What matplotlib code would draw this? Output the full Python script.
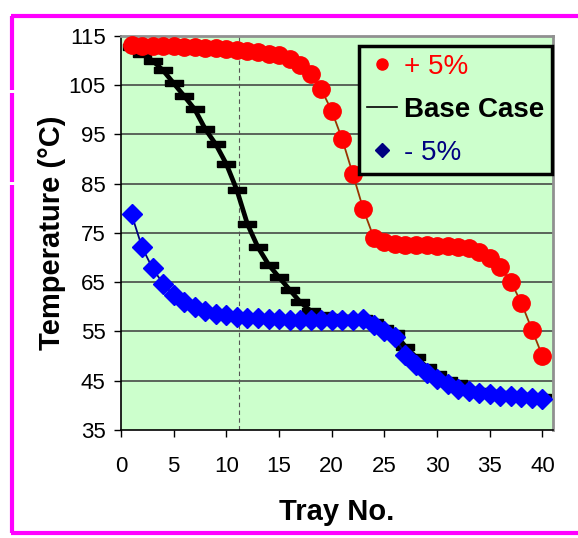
import matplotlib
matplotlib.use("Agg")
import matplotlib.pyplot as plt
from matplotlib.lines import Line2D

plt.rcParams['font.family'] = ['Liberation Sans', 'DejaVu Sans']

trays = list(range(1, 41))
plus5 = [113.1, 113.0, 113.0, 112.9, 112.9, 112.8, 112.7, 112.6, 112.5, 112.4,
         112.2, 112.0, 111.7, 111.4, 111.1, 110.4, 109.1, 107.3, 104.2, 99.8,
         94.0, 87.0, 79.8, 74.0, 73.1, 72.8, 72.6, 72.5, 72.5, 72.4,
         72.3, 72.2, 71.9, 71.2, 70.0, 68.1, 65.1, 60.8, 55.4, 50.0]
base = [112.7, 111.3, 110.0, 108.0, 105.4, 102.8, 100.1, 96.1, 93.0, 89.0,
        83.7, 76.8, 72.1, 68.6, 66.0, 63.5, 61.0, 59.2, 58.3, 57.9,
        57.8, 57.8, 57.8, 56.9, 55.8, 54.6, 51.9, 49.8, 47.8, 46.3,
        45.2, 44.5, 43.2, 42.9, 42.6, 42.4, 42.2, 42.0, 41.8, 41.6]
minus5 = [78.8, 72.1, 67.8, 64.7, 62.4, 61.0, 59.9, 59.2, 58.6, 58.3,
          58.0, 57.8, 57.7, 57.6, 57.5, 57.4, 57.4, 57.3, 57.3, 57.3,
          57.3, 57.4, 57.6, 56.3, 55.2, 53.8, 50.3, 48.1, 46.5, 45.3,
          44.3, 43.4, 42.9, 42.6, 42.3, 42.0, 41.9, 41.7, 41.4, 41.2]
labels = ['+ 5%', 'Base Case', '- 5%']
xticks = list(range(0, 45, 5))
yticks = list(range(35, 125, 10))
ref_tray = 11.2

W, H = 578, 538
fig = plt.figure(figsize=(W / 100, H / 100), dpi=100)
fig.patch.set_facecolor('white')

ax = fig.add_axes([121 / W, 1 - 430 / H, (553 - 121) / W, (430 - 36) / H])
ax.set_facecolor('#CCFFCC')
ax.set_xlim(0, 41)
ax.set_ylim(35, 115)

for yv in yticks[1:-1]:
    ax.axhline(yv, color='#3a3a3a', lw=1.1, zorder=1)
ax.axvline(ref_tray, color='#555555', lw=0.8, ls=(0, (4, 3)), zorder=1)

bar = [(-1, -0.34), (1, -0.34), (1, 0.34), (-1, 0.34), (-1, -0.34)]
ax.plot(trays, base, color='black', lw=3.4, marker=bar, markersize=12.5,
        markerfacecolor='black', markeredgecolor='black', zorder=2)
ax.plot(trays, plus5, color='#993300', lw=1.3, marker='o', markersize=12.5,
        markerfacecolor='red', markeredgecolor='red', zorder=3)
ax.plot(trays, minus5, color='#000080', lw=1.3, marker='D', markersize=10,
        markerfacecolor='#0000FF', markeredgecolor='#0000FF', zorder=3)

ax.set_xticks(xticks)
ax.set_yticks(yticks)
ax.tick_params(direction='out', length=5, width=1, labelsize=16, pad=6)
ax.tick_params(axis='x', pad=14)
for side in ['left', 'bottom']:
    ax.spines[side].set_color('black')
    ax.spines[side].set_linewidth(1.2)
for side in ['top', 'right']:
    ax.spines[side].set_color('#909090')
    ax.spines[side].set_linewidth(2)

ax.set_xlabel('Tray No.', fontsize=21, fontweight='bold', labelpad=15)
ax.set_ylabel('Temperature (\u00b0C)', fontsize=21, fontweight='bold', labelpad=2)

handles = [
    Line2D([], [], ls='none', marker='o', markersize=8, color='red'),
    Line2D([], [], color='black', lw=1.2),
    Line2D([], [], ls='none', marker='D', markersize=7, color='#000080'),
]
leg = ax.legend(handles, labels, loc='upper right', bbox_to_anchor=(0.998, 0.975),
                fontsize=20, frameon=True, fancybox=False, handlelength=1.05,
                handletextpad=0.25, borderpad=0.3, labelspacing=0.6,
                borderaxespad=0)
leg.get_frame().set_edgecolor('black')
leg.get_frame().set_linewidth(2.5)
leg.get_frame().set_facecolor('#CCFFCC')
leg.get_frame().set_alpha(1)
txt_colors = ['red', 'black', '#000080']
for t, c in zip(leg.get_texts(), txt_colors):
    t.set_color(c)
leg.get_texts()[1].set_fontweight('bold')

# magenta frame
mag = '#FF00FF'
lw = 3
def fl(xs, ys):
    fig.add_artist(Line2D([x / W for x in xs], [1 - y / H for y in ys],
                          color=mag, lw=lw, solid_capstyle='butt'))
fl([11, W], [16, 16])
fl([11, W], [533, 533])
fl([12.5, 12.5], [16, 90])
fl([12.5, 12.5], [93, 182])
fl([12.5, 12.5], [185, 533])

fig.savefig('out.png', dpi=100)
